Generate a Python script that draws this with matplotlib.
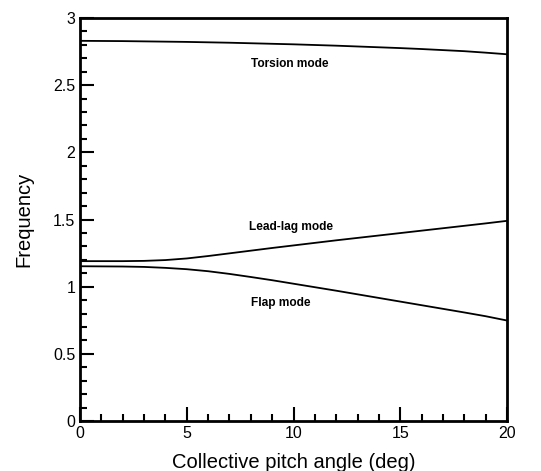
import numpy as np
import matplotlib.pyplot as plt
from matplotlib.ticker import MultipleLocator

plt.rcParams['font.family'] = ['Liberation Sans', 'DejaVu Sans']

pitch = list(range(0, 21))
torsion = [2.830, 2.829, 2.828, 2.826, 2.824, 2.822, 2.819, 2.816, 2.812, 2.808, 2.804,
           2.799, 2.794, 2.788, 2.782, 2.776, 2.769, 2.761, 2.753, 2.742, 2.730]
lead_lag = [1.190, 1.190, 1.190, 1.192, 1.198, 1.210, 1.228, 1.248, 1.268, 1.288, 1.307,
            1.326, 1.345, 1.363, 1.381, 1.399, 1.417, 1.435, 1.453, 1.471, 1.490]
flap = [1.152, 1.151, 1.150, 1.147, 1.140, 1.130, 1.115, 1.095, 1.072, 1.048, 1.022,
        0.996, 0.970, 0.943, 0.916, 0.889, 0.862, 0.835, 0.808, 0.780, 0.748]

fig = plt.figure(figsize=(5.41, 4.71), dpi=100)
ax = fig.add_axes([80/541, 1 - 421/471, 427/541, 403/471])

ax.plot(pitch, torsion, color='k', lw=1.3)
ax.plot(pitch, lead_lag, color='k', lw=1.3)
ax.plot(pitch, flap, color='k', lw=1.3)

ax.text(9.84, 2.66, 'Torsion mode', ha='center', va='center', fontsize=8.6, fontweight='bold')
ax.text(9.9, 1.445, 'Lead-lag mode', ha='center', va='center', fontsize=8.6, fontweight='bold')
ax.text(9.4, 0.875, 'Flap mode', ha='center', va='center', fontsize=8.6, fontweight='bold')

ax.set_xlim(0, 20)
ax.set_ylim(0, 3)
ax.xaxis.set_major_locator(MultipleLocator(5))
ax.xaxis.set_minor_locator(MultipleLocator(1))
ax.yaxis.set_minor_locator(MultipleLocator(0.1))
ax.set_yticks([0, 0.5, 1, 1.5, 2, 2.5, 3])
ax.set_yticklabels(['0', '0.5', '1', '1.5', '2', '2.5', '3'])

ax.tick_params(which='both', direction='in', top=False, right=False, width=1.5, labelsize=11.5)
ax.tick_params(which='major', length=10)
ax.tick_params(which='minor', length=5)
for sp in ax.spines.values():
    sp.set_linewidth(2)

ax.set_xlabel('Collective pitch angle (deg)', fontsize=14.5, labelpad=9)
ax.set_ylabel('Frequency', fontsize=14.5, labelpad=14)

plt.savefig('out.png', dpi=100)
